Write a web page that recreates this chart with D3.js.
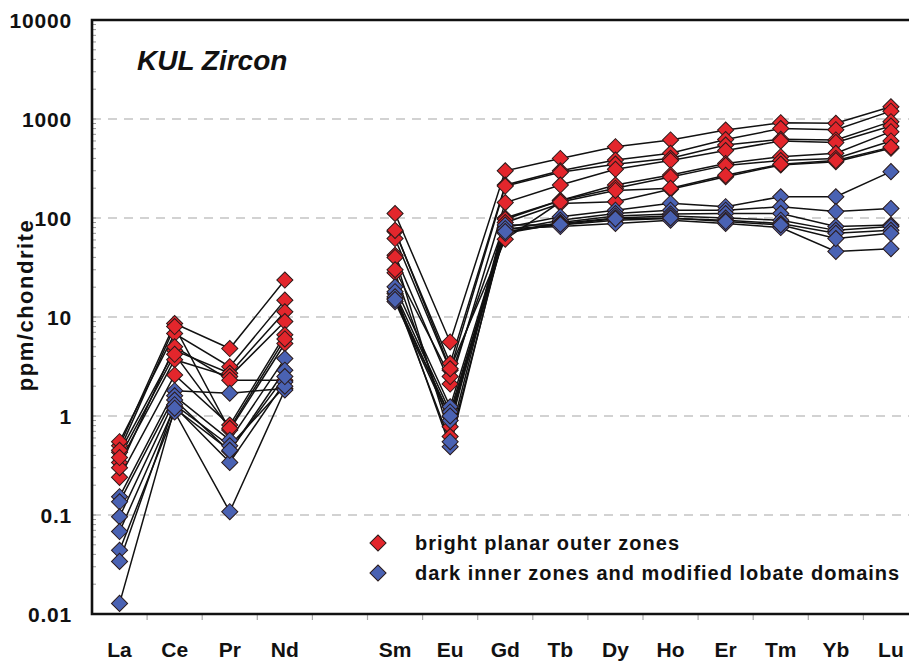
<!DOCTYPE html>
<html>

<head>
    <meta charset="utf-8">
    <style>
        body {
            margin: 0;
            background: white;
        }

        svg {
            overflow: visible;
            font-family: 'Liberation Sans', Arial, sans-serif;
        }
    </style>
</head>

<body>
    <svg width="909" height="666"></svg>
</body>

<script src="https://d3js.org/d3.v7.min.js"></script>

<script>
    // REE pattern, chondrite normalised. Pm has no data -> gap in the lines
    let elements = ["La", "Ce", "Pr", "Nd", "Pm", "Sm", "Eu", "Gd", "Tb", "Dy", "Ho", "Er", "Tm", "Yb", "Lu"]
    let elementLabels = ["La", "Ce", "Pr", "Nd", "", "Sm", "Eu", "Gd", "Tb", "Dy", "Ho", "Er", "Tm", "Yb", "Lu"]
    let yTicks = [0.01, 0.1, 1, 10, 100, 1000, 10000]
    let yTickLabels = ["0.01", "0.1", "1", "10", "100", "1000", "10000"]

    // bright planar outer zones (one row per analysis)
    let brightZones = [
        [0.50, 8.6, 4.8, 23.6, null, 111, 5.6, 300, 400, 525, 614, 774, 918, 904, 1330],
        [0.55, 6.8, 3.15, 14.8, null, 73, 3.4, 215, 300, 385, 450, 620, 800, 780, 1200],
        [0.43, 4.6, 2.7, 11.3, null, 62, 2.9, 210, 290, 350, 401, 546, 624, 614, 940],
        [0.34, 3.7, 2.5, 9.0, null, 42, 2.1, 143, 215, 310, 380, 480, 600, 580, 850],
        [0.24, 2.6, 0.81, 6.6, null, 28, 0.78, 100, 150, 215, 272, 356, 416, 451, 745],
        [0.45, 8.0, 0.72, 5.4, null, 40, 0.62, 97, 150, 200, 260, 340, 380, 400, 600],
        [0.30, 5.0, 2.3, 2.3, null, 30, 2.5, 90, 140, 146, 195, 261, 343, 370, 506],
        [0.38, 4.2, 0.75, 6.0, null, 75, 3.0, 61, 145, 190, 200, 270, 350, 380, 520]
    ]

    // dark inner zones and modified lobate domains
    let darkZones = [
        [0.153, 1.8, 1.7, 1.9, null, 20.2, 1.24, 80, 103, 120, 141, 130, 164, 164, 294],
        [0.136, 1.6, 0.57, 3.8, null, 17.3, 1.1, 75, 95, 111, 120, 120, 130, 116, 125],
        [0.096, 1.45, 0.44, 2.9, null, 15.5, 0.98, 72, 90, 105, 110, 111, 111, 82, 85],
        [0.068, 1.24, 0.34, 2.2, null, 14.3, 0.9, 70, 88, 100, 105, 100, 95, 75, 82],
        [0.044, 1.1, 0.108, 1.83, null, 18, 0.49, 85, 85, 95, 99, 95, 88, 70, 75],
        [0.034, 1.3, 0.5, 2.0, null, 16, 0.55, 78, 82, 88, 95, 88, 80, 46, 49],
        [0.0128, 1.2, 0.45, 2.5, null, 15, 1.0, 73, 86, 98, 100, 92, 85, 62, 70]
    ]

    let seriesNames = ["bright planar outer zones", "dark inner zones and modified lobate domains"]
    let seriesColors = ["#e3262c", "#4a62b3"]

    let svg = d3.select("svg")

    let plotLeft = 92, plotTop = 20, plotBottom = 614
    let band = 55.1

    let x = d3.scaleBand()
        .domain(elements)
        .range([plotLeft, plotLeft + band * elements.length])
        .padding(0)

    let y = d3.scaleLog()
        .domain([0.01, 10000])
        .range([plotBottom, plotTop])

    let cx = d => x(d) + x.bandwidth() / 2

    // dashed grid
    svg.selectAll(".grid")
        .data(yTicks.filter(d => d > 0.01 && d < 10000))
        .join("line")
        .attr("x1", plotLeft)
        .attr("x2", 909)
        .attr("y1", d => y(d))
        .attr("y2", d => y(d))
        .style("stroke", "#c4c4c4")
        .style("stroke-width", 1.6)
        .style("stroke-dasharray", "9,7")

    // minor + major ticks on the inside of the left axis
    let minor = []
    for (let e = -2; e < 4; e++) {
        for (let m = 1; m < 10; m++) minor.push(m * Math.pow(10, e))
    }
    svg.selectAll(".ytick")
        .data(minor)
        .join("line")
        .attr("x1", plotLeft)
        .attr("x2", plotLeft + 4)
        .attr("y1", d => y(d))
        .attr("y2", d => y(d))
        .style("stroke", "#999")
        .style("stroke-width", 1)

    // bottom ticks between the element bands
    svg.selectAll(".xtick")
        .data(elements.slice(1))
        .join("line")
        .attr("x1", d => x(d))
        .attr("x2", d => x(d))
        .attr("y1", plotBottom)
        .attr("y2", plotBottom + 6)
        .style("stroke", "#aaa")
        .style("stroke-width", 1.2)

    // lines, one per analysis, broken at Pm
    let line = d3.line()
        .defined(d => d.v != null)
        .x(d => cx(d.el))
        .y(d => y(d.v))

    let toPoints = row => row.map((v, i) => ({ el: elements[i], v: v }))

    let allRows = brightZones.map(r => ({ s: 0, row: r })).concat(darkZones.map(r => ({ s: 1, row: r })))

    svg.selectAll(".profile")
        .data(allRows)
        .join("path")
        .attr("d", d => line(toPoints(d.row)))
        .style("fill", "none")
        .style("stroke", "#111")
        .style("stroke-width", 1.5)

    let diamond = d3.symbol().type(d3.symbolSquare).size(130)

    let pts = []
    allRows.forEach(r => {
        toPoints(r.row).forEach(p => {
            if (p.v != null) pts.push({ s: r.s, el: p.el, v: p.v })
        })
    })

    svg.selectAll(".pt")
        .data(pts)
        .join("path")
        .attr("d", diamond)
        .attr("transform", d => "translate(" + cx(d.el) + "," + y(d.v) + ") rotate(45)")
        .style("fill", d => seriesColors[d.s])
        .style("stroke", "#2a1a1a")
        .style("stroke-width", 1)

    // frame (right side falls outside the picture)
    svg.append("path")
        .attr("d", "M" + 915 + "," + plotTop + "H" + plotLeft + "V" + plotBottom + "H" + 915)
        .style("fill", "none")
        .style("stroke", "#111")
        .style("stroke-width", 2.6)

    // y labels
    svg.selectAll(".ylab")
        .data(yTicks)
        .join("text")
        .attr("x", 72)
        .attr("y", d => y(d))
        .attr("dy", "0.36em")
        .attr("text-anchor", "end")
        .style("font-size", "21px")
        .style("font-weight", "bold")
        .style("letter-spacing", "0.8px")
        .style("fill", "#111")
        .text((d, i) => yTickLabels[i])

    // x labels
    svg.selectAll(".xlab")
        .data(elements)
        .join("text")
        .attr("x", d => cx(d))
        .attr("y", 657)
        .attr("text-anchor", "middle")
        .style("font-size", "21px")
        .style("font-weight", "bold")
        .style("fill", "#111")
        .text((d, i) => elementLabels[i])

    svg.append("text")
        .attr("transform", "translate(33,305) rotate(-90)")
        .attr("text-anchor", "middle")
        .style("font-size", "22px")
        .style("font-weight", "bold")
        .style("letter-spacing", "1.5px")
        .style("fill", "#111")
        .text("ppm/chondrite")

    svg.append("text")
        .attr("x", 137)
        .attr("y", 70)
        .style("font-size", "28px")
        .style("font-weight", "bold")
        .style("font-style", "italic")
        .style("fill", "#111")
        .text("KUL Zircon")

    // legend
    let legend = svg.selectAll(".legend")
        .data(seriesNames)
        .join("g")
        .attr("transform", (d, i) => "translate(378," + (543 + i * 30) + ")")

    legend.append("path")
        .attr("d", diamond)
        .attr("transform", "rotate(45)")
        .style("fill", (d, i) => seriesColors[i])
        .style("stroke", "#2a1a1a")
        .style("stroke-width", 1)

    legend.append("text")
        .attr("x", 37)
        .attr("dy", "0.35em")
        .style("font-size", "20px")
        .style("font-weight", "bold")
        .style("letter-spacing", "1px")
        .style("fill", "#111")
        .text(d => d)
</script>

</html>
